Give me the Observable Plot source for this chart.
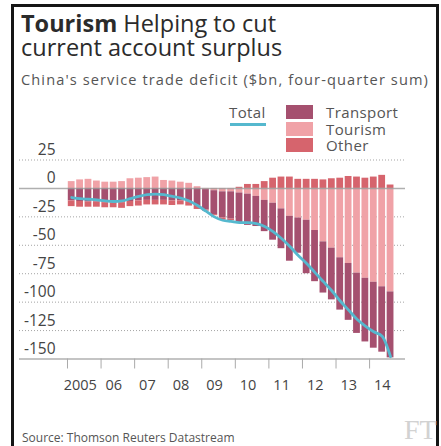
<!DOCTYPE html>
<html>
<head>
<meta charset="utf-8">
<script src="https://cdn.jsdelivr.net/npm/d3@7"></script>
<script src="https://cdn.jsdelivr.net/npm/@observablehq/plot@0.6"></script>
<style>
  html, body { margin: 0; padding: 0; background: #fff; width: 441px; height: 446px; overflow: hidden; }
  body { position: relative; font-family: "Open Sans", "Noto Sans", sans-serif; color: #444; }
  #frame { position: absolute; left: 11px; top: 4px; width: 422px; height: 470px; border: 3px solid #151515; border-bottom: none; }
  .title { position: absolute; left: 21px; font-size: 23.5px; line-height: 22px; color: #2b2b2b; white-space: nowrap; }
  .title b { font-weight: 700; }
  #subtitle { position: absolute; left: 21px; top: 72px; font-size: 14.6px; line-height: 15px; letter-spacing: 1.1px; color: #555; white-space: nowrap; }
  #chart { position: absolute; left: 0; top: 95px; }
  .leg { position: absolute; font-size: 15px; line-height: 13px; letter-spacing: 0.4px; color: #555; white-space: nowrap; }
  .sw { position: absolute; width: 27px; height: 14px; }
  #source { position: absolute; left: 22px; top: 431px; font-size: 12px; line-height: 13px; color: #555; white-space: nowrap; }
  #ft { position: absolute; left: 404px; top: 417px; font-family: "Liberation Serif", "DejaVu Serif", serif; font-size: 28px; line-height: 26px; color: #d2d2d2; }
</style>
</head>
<body>
<div id="frame"></div>
<div class="title" style="top:12px"><b>Tourism</b> Helping to cut</div>
<div class="title" style="top:36px">current account surplus</div>
<div id="subtitle">China's service trade deficit ($bn, four-quarter sum)</div>
<div id="chart"></div>
<div id="legend"></div>
<div id="source">Source: Thomson Reuters Datastream</div>
<div id="ft">FT</div>
<script>
// ---- data ----
const years = [2005, 2006, 2007, 2008, 2009, 2010, 2011, 2012, 2013, 2014];
const yearLabels = ["2005", "06", "07", "08", "09", "10", "11", "12", "13", "14"];
const yTicks = [25, 0, -25, -50, -75, -100, -125, -150];
const seriesNames = ["Transport", "Tourism", "Other"];
const seriesColors = ["#a5506f", "#f0a2a7", "#d6646d"];
const totalColor = "#55b8ce";

// quarters 2005 Q1 .. 2014 Q3
const quarters = [];
years.forEach(y => [1, 2, 3, 4].forEach(q => quarters.push(y + " Q" + q)));
quarters.length = 39;

const transport = [-11, -11.5, -12, -12, -12.5, -12.5, -12.5, -11.5, -11, -10.5, -10.5, -10.5, -11, -11, -12, -15,
  -18, -21, -23, -24, -26, -27.5, -26.5, -27.5, -32.5, -35, -39.5, -31, -47, -45, -45, -45.5, -46, -50, -53, -56, -58, -57.5, -58];
const tourism = [6, 7.5, 8, 6.5, 5.5, 5.5, 6, 8.5, 9, 9.5, 10, 7, 6.5, 5.5, 4.5, 1.5,
  -1, -2, -3, -3, -4, -5, -7, -10.5, -13, -18, -24.5, -26, -28, -37, -47, -52.5, -61, -66, -74.5, -79, -82.5, -86.5, -91];
const other = [-5, -5, -4.5, -4.5, -4.5, -4.5, -5, -4.5, -4.5, -4, -4, -4, -4, -3.5, -3.5, -3.5,
  -1, -1, -2, -1.5, 1, 3.5, 3.5, 6, 9, 10, 10, 8, 8, 8, 7.5, 8.5, 9, 10.5, 10, 9, 10, 11.5, 3];
const total = [-8, -9, -9.5, -10, -11, -11.5, -11, -9, -7, -5.5, -5, -5.5, -7, -8.5, -11, -15,
  -20, -25, -28, -29, -30, -30, -31, -33.5, -38, -44, -51, -59, -66, -74, -82, -90, -99, -107, -115, -121, -126, -130, -148];

// ---- build tables ----
const qPos = q => { const [y, qq] = q.split(" Q").map(Number); return y + (qq - 1) / 4 + 0.125; };
const bars = [];
const lineRows = [];
quarters.forEach((q, i) => {
  const t = qPos(q);
  bars.push({t, series: "Tourism", value: tourism[i]});
  bars.push({t, series: "Transport", value: transport[i]});
  bars.push({t, series: "Other", value: other[i]});
  lineRows.push({t, value: total[i]});
});

const chart = Plot.plot({
  width: 441,
  height: 305,
  marginLeft: 19,
  marginRight: 36,
  marginTop: 64.5,
  marginBottom: 41.5,
  x: {domain: [2003.57, 2015.07]},
  y: {domain: [-150, 25]},
  color: {domain: seriesNames, range: seriesColors},
  style: {fontFamily: "'Open Sans', 'Noto Sans', sans-serif", fontSize: "14px", color: "#444", background: "transparent"},
  marks: [
    Plot.gridY(yTicks.filter(d => d !== 0 && d !== -150), {stroke: "#9a9a9a", strokeOpacity: 0.9, strokeDasharray: "1,2"}),
    Plot.ruleY([-150], {stroke: "#b0b0b0", strokeWidth: 1.5}),
    Plot.rectY(bars, {x: "t", interval: 0.25, y: "value", fill: "series", order: ["Tourism", "Transport", "Other"], insetLeft: 0.8, insetRight: 0.8}),
    Plot.ruleY([0], {stroke: "#9b9b9b", strokeWidth: 1.5, strokeOpacity: 0.8}),
    Plot.line(lineRows, {x: "t", y: "value", stroke: totalColor, strokeWidth: 2.8, curve: "monotone-x"}),
    Plot.axisY(yTicks, {anchor: "left", tickSize: 0, tickPadding: 0, dx: 36, dy: -10, textAnchor: "end", label: null, fontSize: 15.5, tickFormat: d => String(d), fill: "#444"}),
    Plot.axisX(years, {anchor: "bottom", tickSize: 10, tickFormat: () => "", stroke: "#aaa", label: null}),
    Plot.axisX(years.map(y => y + 0.38), {anchor: "bottom", tickSize: 0, tickPadding: 21, label: null, fontSize: 14.5, fill: "#444",
      tickFormat: d => yearLabels[Math.round(d - 0.38) - years[0]]})
  ]
});
document.getElementById("chart").appendChild(chart);

// ---- legend ----
const legend = document.getElementById("legend");
const addEl = (cls, css, text) => { const e = document.createElement("div"); e.className = cls; Object.assign(e.style, css); if (text) e.textContent = text; legend.appendChild(e); };
addEl("leg", {left: "229px", top: "106px"}, "Total");
addEl("sw", {left: "230px", top: "123px", width: "36px", height: "2.5px", background: totalColor});
seriesNames.forEach((s, i) => {
  addEl("sw", {left: "286px", top: (105 + i * 16.5) + "px", background: seriesColors[i]});
  addEl("leg", {left: "326px", top: (106 + i * 16.5) + "px"}, s);
});
</script>
</body>
</html>
